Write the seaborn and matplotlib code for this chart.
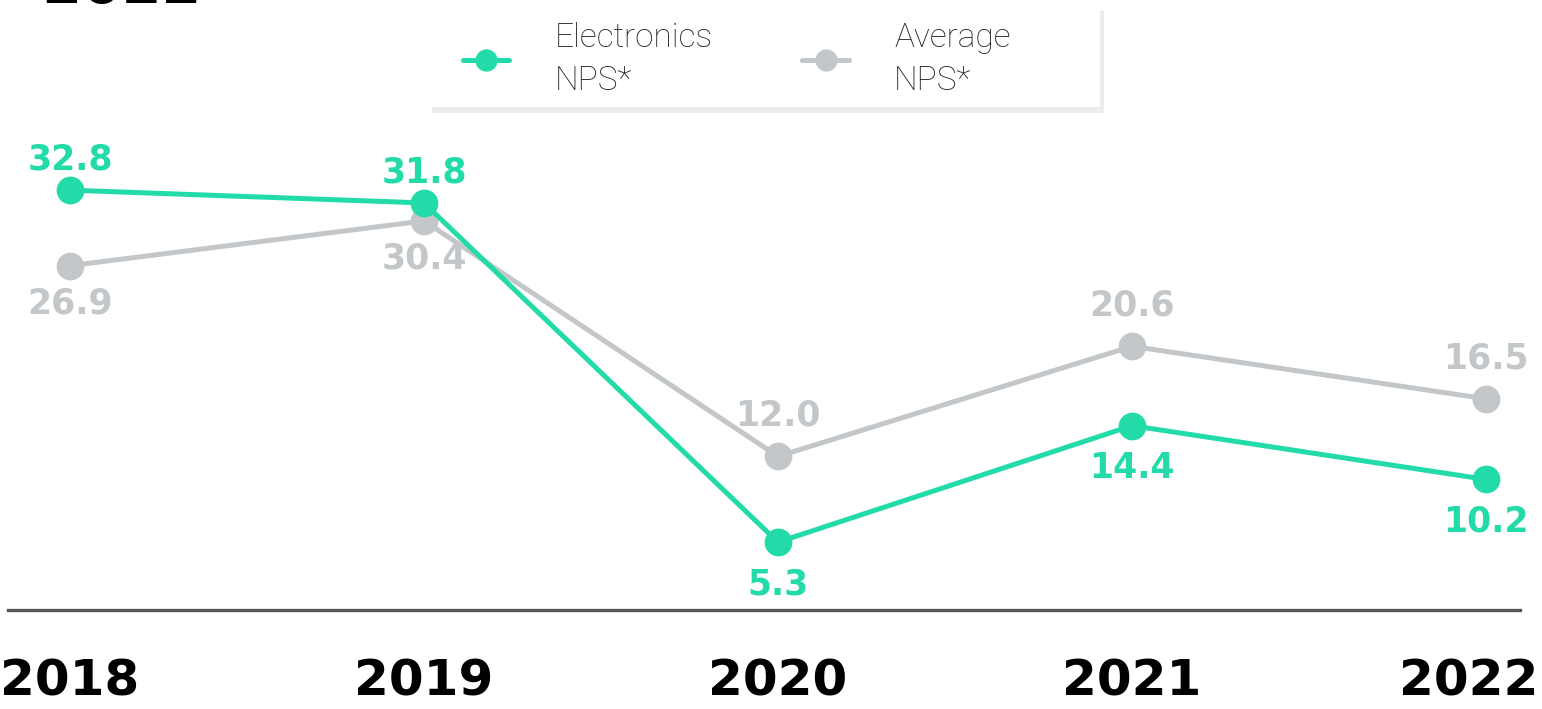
import pandas as pd
import matplotlib.pyplot as plt
import matplotlib.patches as mpatches
import matplotlib.transforms as mtransforms
import seaborn as sns

# 資料
years = [2018, 2019, 2020, 2021, 2022]
electronics_nps = [32.8, 31.8, 5.3, 14.4, 10.2]
average_nps = [26.9, 30.4, 12.0, 20.6, 16.5]

# 標籤位置：1 = 點上方, -1 = 點下方
elec_side = [1, 1, -1, -1, -1]
avg_side = [-1, -1, 1, 1, 1]

teal = "#22DBA8"
gray = "#C3C7C9"

sns.set_theme(style="white")
plt.rcParams['font.family'] = ['DejaVu Sans']

W, H = 1542, 709
fig = plt.figure(figsize=(W / 100, H / 100), dpi=100)
ax = fig.add_axes([8 / W, 99 / H, 1512 / W, 500 / H])

sns.lineplot(x=years, y=average_nps, color=gray, linewidth=3.6, marker='o',
             markersize=20, markeredgewidth=0, label="Average\nNPS*", ax=ax)
sns.lineplot(x=years, y=electronics_nps, color=teal, linewidth=3.6, marker='o',
             markersize=20, markeredgewidth=0, label="Electronics\nNPS*", ax=ax)
handles, labels = ax.get_legend_handles_labels()
ax.get_legend().remove()

# 數值標籤
def label_points(vals, sides, color, up, down):
    for yr, v, s in zip(years, vals, sides):
        ax.annotate(f"{v:.1f}", (yr, v), xytext=(0, up if s > 0 else -down),
                    textcoords='offset points', ha='center',
                    va='bottom' if s > 0 else 'top', fontsize=25,
                    fontweight='bold', color=color)

label_points(electronics_nps, elec_side, teal, 10, 18)
label_points(average_nps, avg_side, gray, 17, 15)

ax.set_xlim(2018 - 62 / 354, 2022 + 34 / 354)
ax.set_ylim(0, 500 / 12.8)
ax.set_xticks(years)
ax.set_xticklabels([str(y) for y in years], fontsize=36, fontweight='bold', color='black')
ax.tick_params(axis='x', length=0, pad=34)
# 最後一個年份往左移，避免超出畫面
last = ax.get_xticklabels()[-1]
last.set_transform(last.get_transform() + mtransforms.ScaledTranslation(-0.17, 0, fig.dpi_scale_trans))
ax.set_yticks([])
ax.set_xlabel("")
ax.set_ylabel("")
for side in ['top', 'left', 'right']:
    ax.spines[side].set_visible(False)
ax.spines['bottom'].set_color('#555859')
ax.spines['bottom'].set_linewidth(2.4)

# 圖例底框（白色 + 淡陰影）
box = mpatches.Rectangle((428 / W, 1 - 107 / H), 672 / W, 102 / H,
                         transform=fig.transFigure, facecolor='white',
                         edgecolor='none', zorder=1)
shadow = mpatches.Shadow(box, 3 / W, -4 / H, transform=fig.transFigure)
shadow.set_facecolor('#ECECEC')
shadow.set_edgecolor('none')
shadow.set_alpha(1)
fig.patches.extend([shadow, box])

leg = fig.legend(handles[::-1], labels[::-1], ncol=2, loc='upper left',
                 bbox_to_anchor=(446 / W, 1 - 5 / H), frameon=False,
                 prop={'family': 'Roboto', 'weight': 'light', 'size': 24},
                 markerscale=0.8, handlelength=1.4, handletextpad=1.35,
                 columnspacing=2.7, borderpad=0.5, borderaxespad=0)
for t in leg.get_texts():
    t.set_linespacing(1.45)
    t.set_color('#222222')

# 標題殘留（上方被裁切）
fig.text(-0.004, 1 - 4 / H, "\u2013 2022", fontsize=41, fontweight='bold',
         ha='left', va='baseline', color='black')

fig.savefig("out.png", dpi=100)
